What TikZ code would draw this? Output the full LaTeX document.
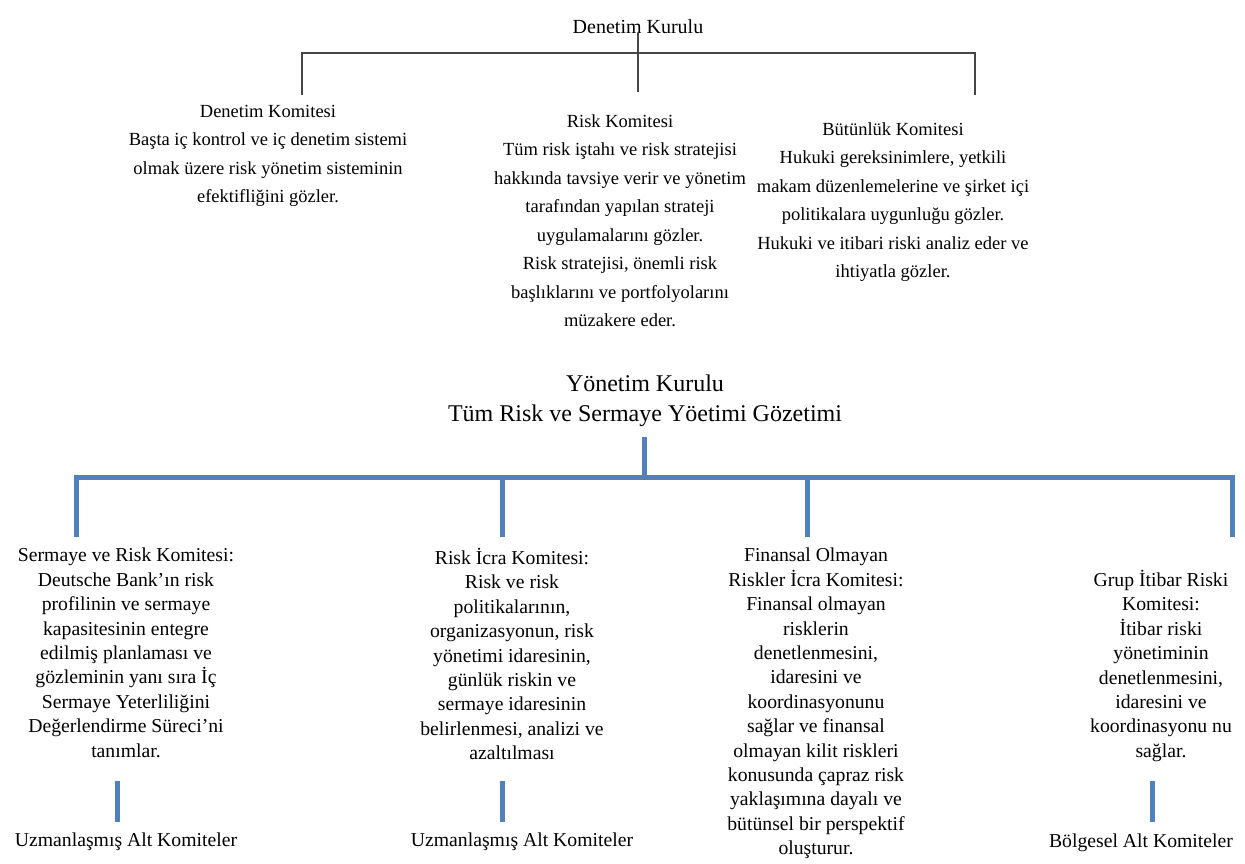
\documentclass[tikz,border=0pt]{standalone}
\usepackage{fontspec}
\setmainfont{Liberation Serif}
\usepackage{tikz}
\usetikzlibrary{positioning}
\tikzstyle{canvas} = [x = 1pt, y = -1pt]
\definecolor{branchColor}{RGB}{79,129,189}
\definecolor{boardColor}{RGB}{70,70,70}
\tikzstyle{boardLine} = [color=boardColor, line width=1.8pt]
\tikzstyle{branchLine} = [color=branchColor, line width=5pt]
\tikzstyle{upperText} = [align=center, inner sep=0pt, anchor=north, font=\fontsize{18.5}{28.5}\selectfont]
\tikzstyle{lowerText} = [align=center, inner sep=0pt, anchor=north, font=\fontsize{19.7}{24.4}\selectfont]
\tikzstyle{titleText} = [align=center, inner sep=0pt, anchor=north, font=\fontsize{24}{30}\selectfont]
\newcommand{\subBar}[2]{\draw [branchLine] (#1, 781) -- (#1, 822) coordinate (#2);}

\begin{document}
\begin{tikzpicture}[canvas]
        \useasboundingbox (0,0) rectangle (1245,863);

        % denetim kurulu
        \node [upperText, font=\fontsize{20}{24}\selectfont] (denetimKurulu) at (638,19) {Denetim Kurulu};
        \coordinate (topMid) at (638,92);
        \coordinate (topLeft) at (302,53);
        \coordinate (topRight) at (975,53);
        \coordinate (topLeftEnd) at (302,95);
        \coordinate (topRightEnd) at (975,95);
        \draw [boardLine] (denetimKurulu.south) -- (topMid);
        \draw [boardLine] (topLeftEnd) -- (topLeft) -- (topRight) -- (topRightEnd);

        \node [upperText] (denetimKomitesi) at (268,105) {Denetim Komitesi\\Başta iç kontrol ve iç denetim sistemi\\olmak üzere risk yönetim sisteminin\\efektifliğini gözler.};
        \node [upperText] (riskKomitesi) at (620,114) {Risk Komitesi\\Tüm risk iştahı ve risk stratejisi\\hakkında tavsiye verir ve yönetim\\tarafından yapılan strateji\\uygulamalarını gözler.\\Risk stratejisi, önemli risk\\başlıklarını ve portfolyolarını\\müzakere eder.};
        \node [upperText] (butunlukKomitesi) at (893,122) {Bütünlük Komitesi\\Hukuki gereksinimlere, yetkili\\makam düzenlemelerine ve şirket içi\\politikalara uygunluğu gözler.\\Hukuki ve itibari riski analiz eder ve\\ihtiyatla gözler.};

        % yonetim kurulu
        \node [titleText] (yonetimKurulu) at (645,375) {Yönetim Kurulu\\Tüm Risk ve Sermaye Yöetimi Gözetimi};
        \coordinate (barTop) at (644,437);
        \coordinate (barMid) at (644,477);
        \coordinate (barLeft) at (76,477);
        \coordinate (barRight) at (1232,477);
        \coordinate (dropA) at (76,537);
        \coordinate (dropB) at (502,537);
        \coordinate (dropC) at (807,537);
        \coordinate (dropD) at (1232,537);
        \draw [branchLine] (barTop) -- (barMid);
        \draw [branchLine] (dropA) -- (barLeft) -- (barRight) -- (dropD);
        \draw [branchLine] (dropB) -- (dropB |- barMid);
        \draw [branchLine] (dropC) -- (dropC |- barMid);

        \node [lowerText] (sermayeRisk) at (126,548) {Sermaye ve Risk Komitesi:\\Deutsche Bank’ın risk\\profilinin ve sermaye\\kapasitesinin entegre\\edilmiş planlaması ve\\gözleminin yanı sıra İç\\Sermaye Yeterliliğini\\Değerlendirme Süreci’ni\\tanımlar.};
        \node [lowerText] (riskIcra) at (512,548) {Risk İcra Komitesi:\\Risk ve risk\\politikalarının,\\organizasyonun, risk\\yönetimi idaresinin,\\günlük riskin ve\\sermaye idaresinin\\belirlenmesi, analizi ve\\azaltılması};
        \node [lowerText] (finansalOlmayan) at (816,548) {Finansal Olmayan\\Riskler İcra Komitesi:\\Finansal olmayan\\risklerin\\denetlenmesini,\\idaresini ve\\koordinasyonunu\\sağlar ve finansal\\olmayan kilit riskleri\\konusunda çapraz risk\\yaklaşımına dayalı ve\\bütünsel bir perspektif\\oluşturur.};
        \node [lowerText] (grupItibar) at (1161,570) {Grup İtibar Riski\\Komitesi:\\İtibar riski\\yönetiminin\\denetlenmesini,\\idaresini ve\\koordinasyonu nu\\sağlar.};

        % alt komiteler
        \node [lowerText] (uzmanAltA) at (126,833) {Uzmanlaşmış Alt Komiteler};
        \node [lowerText] (uzmanAltB) at (522,833) {Uzmanlaşmış Alt Komiteler};
        \node [lowerText] (bolgeselAlt) at (1141,834) {Bölgesel Alt Komiteler};
        \subBar{117}{subA}
        \subBar{502}{subB}
        \subBar{1152}{subD}
\end{tikzpicture}
\end{document}
